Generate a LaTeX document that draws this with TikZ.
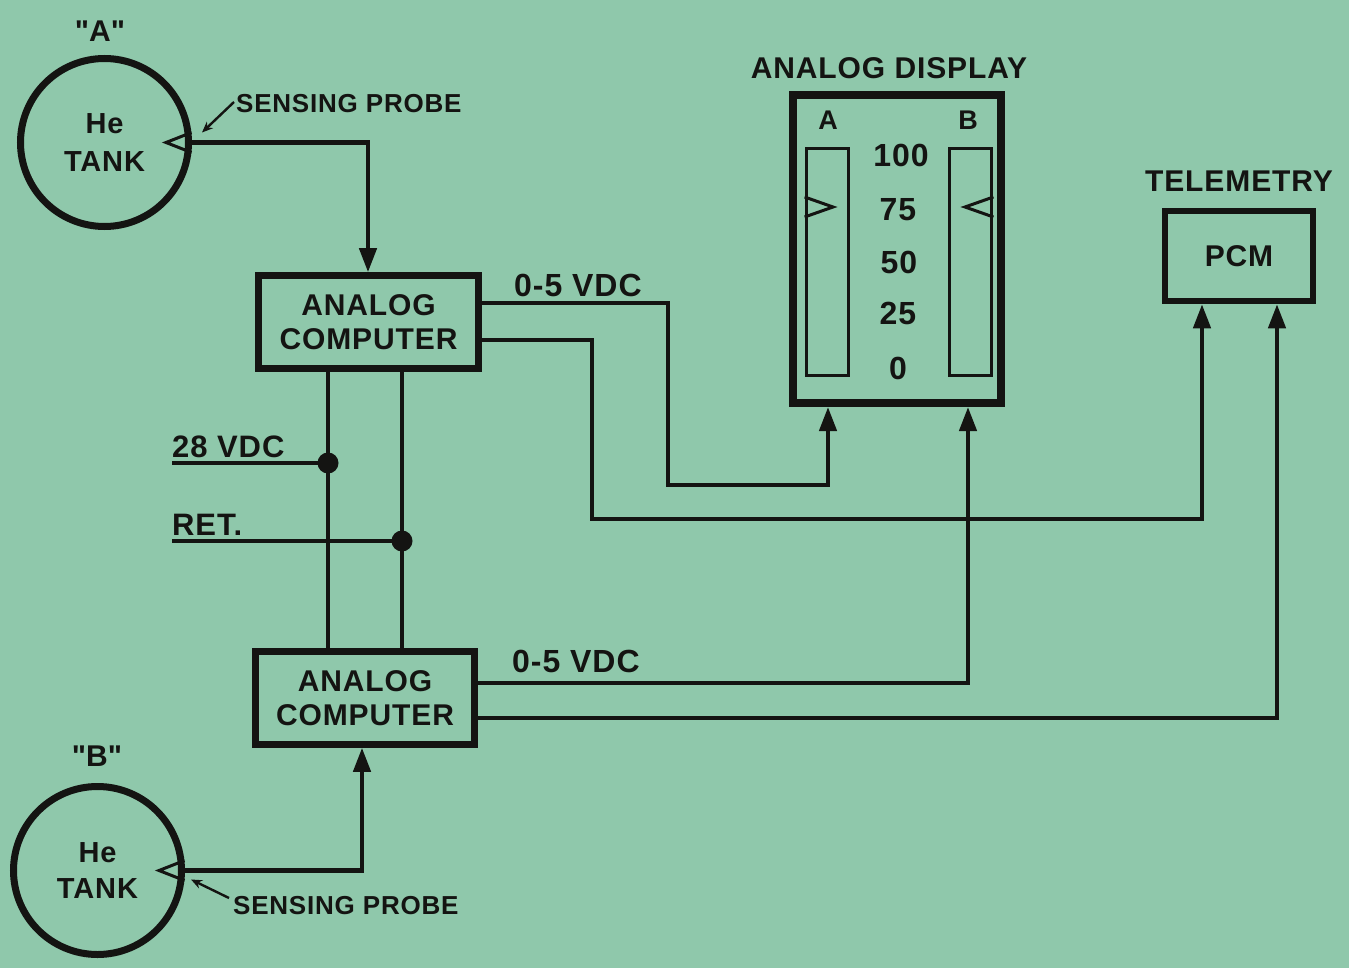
\documentclass[tikz,border=0pt]{standalone}
\usepackage{fontspec}
\setmainfont{Liberation Sans}[LetterSpace=3]
\usetikzlibrary{arrows.meta}
\definecolor{bg}{RGB}{143,200,171}
\definecolor{ink}{RGB}{20,20,18}
\newcommand\myfs[1]{\fontsize{#1}{#1}\selectfont\bfseries}
\begin{document}
\begin{tikzpicture}[x=1pt,y=-1pt,
  box/.style={draw=ink, line width=6.5pt, inner sep=0pt, align=center, font=\myfs{30}, text=ink, rectangle},
  tank/.style={draw=ink, line width=7pt, circle, inner sep=0pt, minimum size=168pt, align=center, font=\myfs{29}, text=ink},
  wire/.style={draw=ink, line width=4.3pt, line join=miter},
  awire/.style={wire, -{Triangle[length=24pt,width=17pt]}},
  lbl/.style={text=ink, font=\myfs{31}, inner sep=0pt},
  thin/.style={draw=ink, line width=2.4pt, -{Stealth[length=11pt,width=9pt]}},
  bar/.style={draw=ink, line width=3.8pt, rectangle, inner sep=0pt},
  dot/.style={circle, fill=ink, inner sep=0pt, minimum size=21pt}]
\fill[bg] (0,0) rectangle (1349,968);
\useasboundingbox (0,0) rectangle (1349,968);

% tanks
\node[tank] (tankA) at (104.5,142.5) {He\\[9pt]TANK};
\node[lbl, font=\myfs{30}] (labA) at (100,31) {\textquotedbl A\textquotedbl};
\node[tank] (tankB) at (97.5,870.5) {He\\[7pt]TANK};
\node[lbl, font=\myfs{30}] (labB) at (97,756) {\textquotedbl B\textquotedbl};

% probes
\draw[ink, line width=3pt, line join=miter] ([shift={(-0.5,-10)}]tankA.east) -- ([shift={(-26,0)}]tankA.east) -- ([shift={(-0.5,10)}]tankA.east);
\draw[ink, line width=3pt, line join=miter] ([shift={(-0.5,-10)}]tankB.east) -- ([shift={(-26,0)}]tankB.east) -- ([shift={(-0.5,10)}]tankB.east);

\node[lbl, anchor=west, font=\myfs{26}] (spA) at (236,104) {SENSING PROBE};
\node[lbl, anchor=west, font=\myfs{26}] (spB) at (233,906) {SENSING PROBE};
\draw[thin] (spA.west) ++(-2,-2) -- ([shift={(10,-10)}]tankA.east);
\draw[thin] (spB.west) ++(-4,-8) -- ([shift={(6,9)}]tankB.east);

% computers
\node[box, minimum width=220pt, minimum height=93pt] (comp1) at (368.5,322) {ANALOG\\[4pt]COMPUTER};
\node[box, minimum width=219pt, minimum height=93pt] (comp2) at (365,698) {ANALOG\\[4pt]COMPUTER};

% display
\node[box, line width=8pt, minimum width=208pt, minimum height=308pt] (disp) at (897,249) {};
\node[lbl, font=\myfs{30}] (dispt) at (889,68) {ANALOG DISPLAY};
\node[lbl, font=\myfs{27}] (dA) at (828,120) {A};
\node[lbl, font=\myfs{27}] (dB) at (968,120) {B};
\node[bar, minimum width=42pt, minimum height=227pt] (barA) at (827.5,262) {};
\node[bar, minimum width=42pt, minimum height=227pt] (barB) at (970.5,262) {};
\draw[ink, line width=3pt, line join=miter] ([shift={(0,-10)}]barA.west |- 0,207) -- (833,207) -- ([shift={(0,10)}]barA.west |- 0,207);
\draw[ink, line width=3pt, line join=miter] ([shift={(0,-10)}]barB.east |- 0,207) -- (965,207) -- ([shift={(0,10)}]barB.east |- 0,207);
\node[lbl, font=\myfs{32}] (n100) at (901,155) {100};
\node[lbl, font=\myfs{32}] (n75) at (898,210) {75};
\node[lbl, font=\myfs{32}] (n50) at (899,262) {50};
\node[lbl, font=\myfs{32}] (n25) at (898,313) {25};
\node[lbl, font=\myfs{32}] (n0) at (898,368) {0};

% telemetry
\node[box, minimum width=148pt, minimum height=90pt] (pcm) at (1239,256) {PCM};
\node[lbl, font=\myfs{30}] (telt) at (1239,181) {TELEMETRY};

% tank to computer
\draw[awire] (tankA.east) -| (comp1.north -| 368,0);
\draw[awire] (tankB.east) -| (comp2.south -| 362,0);

% computer outputs
\node[lbl, anchor=west, font=\myfs{32}] (v1) at (514,285) {0-5 VDC};
\node[lbl, anchor=west, font=\myfs{32}] (v2) at (512,661) {0-5 VDC};
\draw[awire] (comp1.east |- 0,303) -| (668,485) -| (disp.south -| 828,0);
\draw[awire] (comp1.east |- 0,340) -| (592,519) -| (pcm.south -| 1202,0);
\draw[awire] (comp2.east |- 0,683) -| (disp.south -| 968,0);
\draw[awire] (comp2.east |- 0,718) -| (pcm.south -| 1277,0);

% power bus
\draw[wire] (comp1.south -| 328,0) -- (comp2.north -| 328,0);
\draw[wire] (comp1.south -| 402,0) -- (comp2.north -| 402,0);
\node[dot] (d28) at (328,463) {};
\node[dot] (dret) at (402,541) {};
\coordinate (p28) at (172,463);
\coordinate (pret) at (172,541);
\draw[wire] (p28) -- (d28.center);
\draw[wire] (pret) -- (dret.center);
\node[lbl, anchor=south west] (t28) at (172,458) {28 VDC};
\node[lbl, anchor=south west] (tret) at (172,536) {RET.};
\end{tikzpicture}
\end{document}
